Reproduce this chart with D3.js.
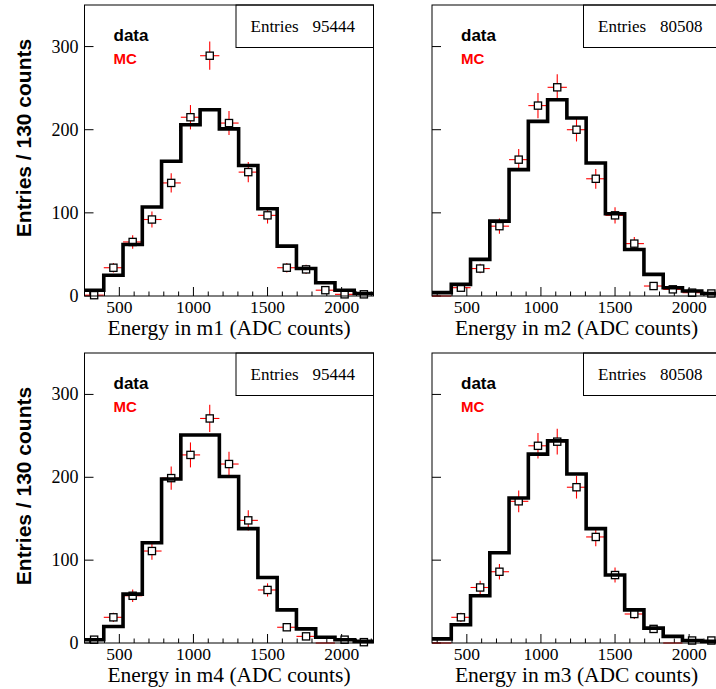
<!DOCTYPE html>
<html>
<head>
<meta charset="utf-8">
<script src="https://cdn.jsdelivr.net/npm/d3@7"></script>
<style>
  body { margin: 0; background: #fff; }
  svg { display: block; }
</style>
</head>
<body>
<script>
// Binning: 15 bins of 130 ADC counts
const binCenters = [330, 460, 590, 720, 850, 980, 1110, 1240, 1370, 1500, 1630, 1760, 1890, 2020, 2150];
const binWidth = 130;
const xDomain = [265, 2215];
const yDomain = [0, 350];
const xMajorTicks = [500, 1000, 1500, 2000];
const xMinorTicks = [300, 400, 600, 700, 800, 900, 1100, 1200, 1300, 1400, 1600, 1700, 1800, 1900, 2100, 2200];
const yTicks = [0, 100, 200, 300];

// Channels in panel order (row by row)
const channels = ["m1", "m2", "m4", "m3"];
const entries = [95444, 80508, 95444, 80508];

// MC histogram contents (per bin)
const mcM1 = [7, 25, 62, 107, 162, 206, 224, 201, 157, 105, 60, 33, 16, 7, 3];
const mcM2 = [4, 14, 44, 90, 152, 210, 236, 214, 160, 99, 56, 26, 10, 6, 3];
const mcM4 = [4, 20, 59, 121, 198, 251, 251, 201, 138, 79, 40, 17, 7, 4, 2];
const mcM3 = [5, 22, 57, 109, 175, 228, 244, 204, 138, 82, 40, 18, 8, 3, 2];

// Measured points (per bin)
const dataM1 = [1, 34, 65, 92, 136, 215, 289, 208, 149, 97, 34, 32, 7, 2, 2];
const dataM2 = [0, 10, 33, 84, 164, 229, 251, 200, 141, 97, 63, 12, 8, 4, 3];
const dataM4 = [4, 31, 57, 111, 199, 227, 271, 216, 148, 64, 19, 8, 0, 4, 1];
const dataM3 = [0, 31, 67, 86, 171, 238, 243, 188, 128, 82, 35, 17, 0, 3, 3];

const mcSeries = [mcM1, mcM2, mcM4, mcM3];
const dataSeries = [dataM1, dataM2, dataM4, dataM3];

// Layout
const W = 716, H = 689;
const colX = [84.5, 432];
const rowY = [5, 353];
const plotW = 289;
const plotH = [291, 290];

const serif = "'Liberation Serif', 'Times New Roman', serif";
const sans = "'Liberation Sans', Arial, sans-serif";

const svg = d3.select("body").append("svg")
  .attr("width", W).attr("height", H)
  .attr("viewBox", `0 0 ${W} ${H}`);

svg.append("rect").attr("width", W).attr("height", H).attr("fill", "#fff");

channels.forEach((ch, i) => {
  const col = i % 2, row = Math.floor(i / 2);
  const x0 = colX[col], y0 = rowY[row], h = plotH[row];
  const x = d3.scaleLinear().domain(xDomain).range([x0, x0 + plotW]);
  const y = d3.scaleLinear().domain(yDomain).range([y0 + h, y0]);
  const g = svg.append("g");

  // frame background
  g.append("rect")
    .attr("x", x0).attr("y", y0).attr("width", plotW).attr("height", h)
    .attr("fill", "#fff");

  // x ticks (inside)
  g.selectAll(null).data(xMinorTicks).enter().append("line")
    .attr("x1", d => x(d)).attr("x2", d => x(d))
    .attr("y1", y(0)).attr("y2", y(0) - 4.5)
    .attr("stroke", "#000").attr("stroke-width", 1);
  g.selectAll(null).data(xMajorTicks).enter().append("line")
    .attr("x1", d => x(d)).attr("x2", d => x(d))
    .attr("y1", y(0)).attr("y2", y(0) - 9)
    .attr("stroke", "#000").attr("stroke-width", 1);
  g.selectAll(null).data(xMajorTicks).enter().append("text")
    .attr("x", d => x(d)).attr("y", y(0) + 17)
    .attr("text-anchor", "middle")
    .attr("font-family", serif).attr("font-size", 17.5).attr("fill", "#000")
    .text(d => d);

  // y ticks (inside)
  g.selectAll(null).data(yTicks).enter().append("line")
    .attr("x1", x0).attr("x2", x0 + 9)
    .attr("y1", d => y(d)).attr("y2", d => y(d))
    .attr("stroke", "#000").attr("stroke-width", 1);
  if (col === 0) {
    g.selectAll(null).data(yTicks).enter().append("text")
      .attr("x", x0 - 6).attr("y", d => y(d) + 6)
      .attr("text-anchor", "end")
      .attr("font-family", serif).attr("font-size", 18).attr("fill", "#000")
      .text(d => d);
    g.append("text")
      .attr("transform", `translate(30.5, ${y0 + 133}) rotate(-90)`)
      .attr("text-anchor", "middle")
      .attr("font-family", sans).attr("font-weight", "bold").attr("font-size", 21)
      .attr("fill", "#000")
      .text("Entries / 130 counts");
  }

  // x axis title
  g.append("text")
    .attr("x", x0 + plotW / 2).attr("y", y(0) + 38.5)
    .attr("text-anchor", "middle")
    .attr("font-family", serif).attr("font-size", 21.5).attr("fill", "#000")
    .text(`Energy in ${ch} (ADC counts)`);

  // measured points: error bars then markers
  const data = dataSeries[i];
  const pts = binCenters.map((c, k) => ({ c, v: data[k] }));
  g.selectAll(null).data(pts).enter().append("line")
    .attr("x1", d => x(d.c - binWidth / 2)).attr("x2", d => x(d.c + binWidth / 2))
    .attr("y1", d => y(d.v)).attr("y2", d => y(d.v))
    .attr("stroke", "#ff0000").attr("stroke-width", 1.1);
  g.selectAll(null).data(pts.filter(d => d.v > 0)).enter().append("line")
    .attr("x1", d => x(d.c)).attr("x2", d => x(d.c))
    .attr("y1", d => y(Math.max(0, d.v - Math.sqrt(d.v))))
    .attr("y2", d => y(d.v + Math.sqrt(d.v)))
    .attr("stroke", "#ff0000").attr("stroke-width", 1.1);
  g.selectAll(null).data(pts.filter(d => d.v > 0)).enter().append("rect")
    .attr("x", d => x(d.c) - 3.6).attr("y", d => y(d.v) - 3.6)
    .attr("width", 7.2).attr("height", 7.2)
    .attr("fill", "#fff").attr("stroke", "#000").attr("stroke-width", 1.3);

  // MC histogram outline
  const mc = mcSeries[i];
  const stepPts = [];
  binCenters.forEach((c, k) => {
    stepPts.push([c - binWidth / 2, mc[k]]);
    stepPts.push([c + binWidth / 2, mc[k]]);
  });
  g.append("path")
    .attr("d", d3.line().x(d => x(d[0])).y(d => y(d[1]))(stepPts))
    .attr("fill", "none").attr("stroke", "#000")
    .attr("stroke-width", 3.6).attr("stroke-linejoin", "miter");

  // legend labels
  g.append("text")
    .attr("x", x0 + 29).attr("y", y0 + 35.5)
    .attr("font-family", sans).attr("font-weight", "bold").attr("font-size", 17)
    .attr("fill", "#000").text("data");
  g.append("text")
    .attr("x", x0 + 29).attr("y", y0 + 59)
    .attr("font-family", sans).attr("font-weight", "bold").attr("font-size", 15)
    .attr("fill", "#ff0000").text("MC");

  // statistics box
  const bx = x0 + 151.5;
  g.append("rect")
    .attr("x", bx).attr("y", y0).attr("width", x0 + plotW - bx).attr("height", 42.5)
    .attr("fill", "#fff").attr("stroke", "#000").attr("stroke-width", 1);
  g.append("text")
    .attr("x", bx + 14.5).attr("y", y0 + 26.5)
    .attr("font-family", serif).attr("font-size", 17).attr("fill", "#000")
    .text("Entries");
  g.append("text")
    .attr("x", bx + 119).attr("y", y0 + 26.5)
    .attr("text-anchor", "end")
    .attr("font-family", serif).attr("font-size", 17).attr("fill", "#000")
    .text(entries[i]);

  // frame on top
  g.append("rect")
    .attr("x", x0).attr("y", y0).attr("width", plotW).attr("height", h)
    .attr("fill", "none").attr("stroke", "#000").attr("stroke-width", 1);
});
</script>
</body>
</html>
